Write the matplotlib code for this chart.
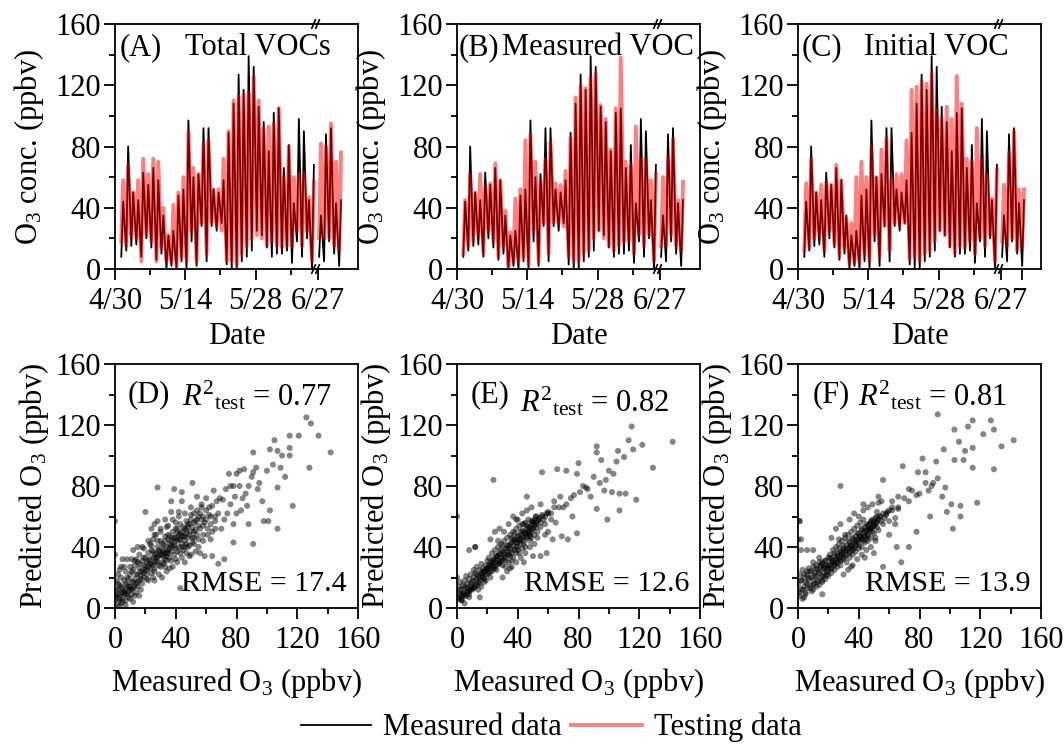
import numpy as np
import matplotlib
matplotlib.use('Agg')
import matplotlib.pyplot as plt
import matplotlib.transforms as mtransforms
from matplotlib.lines import Line2D

plt.rcParams['font.family'] = ['Liberation Serif', 'DejaVu Serif']
plt.rcParams['mathtext.fontset'] = 'custom'
plt.rcParams['mathtext.rm'] = 'Liberation Serif'
plt.rcParams['mathtext.it'] = 'Liberation Serif:italic'
plt.rcParams['mathtext.bf'] = 'Liberation Serif:bold'

# ---------------- time-series data (daily trough / peak, ppbv) ----------------
pre_days = list(range(1, 40))    # 5/1 .. 6/8 (days since 4/30)
post_days = list(range(0, 5))    # 6/27 .. 7/1 (days since 6/27)

meas_low = [8, 12, 15, 16, 8, 20, 14, 6, 10, 0, 2, 0, 5, 0, 18, 2, 28, 5, 28, 25,
            30, 3, 0, 0, 5, 8, 12, 25, 22, 14, 8, 10, 10, 12, 4, 18, 8, 20, 0,
            8, 5, 18, 10, 2]
meas_high = [44, 80, 50, 45, 63, 55, 66, 58, 35, 22, 25, 48, 52, 97, 60, 62, 92, 92, 52, 50,
             58, 89, 108, 127, 117, 139, 132, 106, 96, 77, 102, 105, 66, 81, 43, 98, 90, 45, 68,
             35, 88, 92, 43, 45]

testA_low = [18, 15, 22, 20, 5, 22, 18, 5, 14, 5, 5, 2, 8, 5, 25, 5, 30, 10, 30, 28,
             25, 5, 5, 3, 10, 15, 20, 22, 20, 15, 18, 15, 14, 15, 15, 25, 15, 25, 5,
             20, 20, 20, 15, 12]
testA_high = [58, 68, 50, 58, 72, 62, 72, 70, 40, 22, 42, 50, 60, 90, 66, 62, 82, 84, 52, 52,
              72, 90, 110, 113, 114, 115, 126, 110, 92, 93, 95, 105, 60, 80, 60, 62, 63, 47, 57,
              82, 80, 95, 70, 76]

testB_low = [10, 15, 18, 22, 10, 25, 18, 8, 15, 2, 5, 5, 8, 3, 25, 5, 30, 10, 30, 30,
             28, 8, 5, 5, 10, 12, 20, 25, 20, 15, 12, 15, 18, 18, 10, 22, 15, 22, 5,
             15, 15, 22, 15, 12]
testB_high = [45, 62, 50, 62, 54, 56, 69, 58, 38, 24, 46, 52, 84, 88, 70, 58, 72, 83, 56, 55,
              64, 86, 112, 120, 118, 125, 128, 107, 98, 78, 105, 138, 70, 68, 93, 72, 72, 58, 62,
              60, 73, 85, 45, 57]

testC_low = [12, 14, 20, 22, 12, 25, 16, 8, 14, 3, 5, 4, 10, 5, 22, 8, 28, 12, 30, 28,
             30, 6, 8, 5, 10, 12, 18, 25, 22, 15, 10, 15, 14, 18, 10, 20, 15, 22, 5,
             18, 15, 20, 12, 15]
testC_high = [56, 72, 50, 55, 57, 55, 68, 58, 33, 30, 60, 70, 60, 80, 60, 78, 85, 58, 62, 62,
              84, 117, 119, 123, 121, 128, 104, 98, 106, 98, 126, 108, 72, 70, 92, 72, 62, 46, 65,
              55, 76, 90, 52, 52]

date_ticks = [0, 14, 28, 40.4]
date_labels = ['4/30', '5/14', '5/28', '6/27']

# ---------------- scatter data (measured, predicted) ----------------
D_meas = [0, 1, 2, 2, 3, 3, 4, 4, 5, 5, 6, 6, 7, 7, 8, 8, 9, 9, 10, 10, 11, 11, 12, 12, 13, 13, 14, 14,
          15, 15, 16, 16, 17, 17, 18, 18, 19, 19, 20, 20, 1, 2, 0, 0, 3, 5, 8, 11, 14, 6, 4, 10, 12, 16,
          7, 1, 3,
          21, 21, 22, 22, 23, 23, 24, 24, 25, 25, 26, 26, 27, 27, 28, 28, 29, 29, 30, 30, 31, 31, 32, 32,
          33, 33, 34, 34, 35, 35, 36, 36, 37, 37, 38, 38, 39, 39, 40, 40, 41, 41, 42, 42, 43, 43, 44, 44,
          45, 45, 46, 46, 47, 47, 48, 48, 49, 49, 50, 50, 51, 51, 52, 52, 53, 54, 55, 56, 57, 58, 59, 60,
          24, 26, 28, 30, 33, 35, 37, 40, 42, 20, 28, 39, 44, 51, 37, 44, 54, 57, 31, 34, 38, 41, 44, 47,
          50, 53, 56, 59, 64, 68, 72, 43, 26, 22, 36, 46, 18, 15, 12, 25, 29, 33, 48, 55, 58, 52,
          62, 65, 69, 71, 68, 63, 66, 61, 70, 74, 76, 73, 75, 76, 78, 79, 80, 78, 78, 82, 80, 82, 85, 86,
          87, 88, 90, 91, 91, 91, 93, 95, 98, 101, 102, 102, 104, 105, 107, 107, 107, 109, 110, 112, 115,
          115, 115, 117, 121, 126, 129, 128, 134, 142, 84, 88, 94, 97, 100, 83, 72, 67, 64, 60, 63, 66,
          2, 4, 5, 6, 7, 8, 9, 10, 11, 12, 13, 14, 15, 16, 17, 18, 19, 20, 21, 22, 23, 24, 25, 26,
          27, 28, 29, 30, 31, 32, 33, 34, 35, 36, 37, 38, 39, 40, 41, 42, 43, 44, 45, 46, 47, 48, 49, 50,
          51, 52, 53, 54, 55, 56, 57, 58, 60, 62, 64, 66, 33, 35, 37, 32, 29, 27, 25, 23, 21, 19, 17, 15,
          13, 11, 9, 7, 5, 3, 1, 0, 2, 4, 7, 10, 13, 16, 19, 22, 26, 30, 34, 38, 42, 46, 50, 54,
          40, 43, 46, 49, 52, 55, 58, 61, 63, 36, 39, 41, 44, 47, 31, 34, 28, 26, 24]
D_pred = [5, 8, 4, 12, 7, 15, 10, 3, 6, 13, 9, 18, 12, 5, 15, 20, 11, 7, 14, 22, 17, 9, 13, 25, 19, 28, 16, 10,
          22, 30, 18, 26, 21, 12, 24, 31, 20, 28, 25, 33, 18, 22, 35, 57, 25, 32, 32, 32, 32, 27, 20, 6, 4, 8,
          2, 1, 1,
          30, 22, 27, 36, 32, 42, 29, 38, 33, 45, 30, 24, 36, 48, 33, 40, 37, 28, 35, 44, 38, 30, 41, 34,
          36, 47, 40, 31, 38, 45, 42, 33, 44, 37, 40, 50, 43, 35, 46, 39, 44, 52, 40, 48, 45, 55, 42, 50,
          47, 38, 52, 44, 49, 57, 46, 53, 55, 41, 50, 58, 53, 46, 56, 62, 51, 58, 54, 62, 58, 60, 56, 64,
          52, 55, 57, 52, 58, 54, 63, 56, 63, 63, 79, 78, 76, 82, 70, 70, 73, 68, 20, 24, 27, 30, 33, 36,
          35, 37, 36, 34, 34, 29, 32, 13, 18, 18, 26, 30, 40, 40, 38, 20, 22, 27, 40, 45, 48, 42,
          66, 77, 72, 71, 62, 55, 60, 48, 52, 62, 68, 78, 88, 80, 80, 73, 62, 55, 43, 80, 88, 90, 91, 75,
          67, 55, 86, 89, 102, 42, 92, 82, 57, 57, 64, 104, 94, 110, 103, 79, 52, 92, 100, 86, 113,
          105, 100, 67, 113, 125, 121, 92, 113, 102, 72, 80, 78, 70, 90, 64, 58, 70, 50, 72, 60, 52,
          9, 14, 4, 11, 16, 9, 19, 12, 24, 17, 8, 22, 14, 29, 24, 16, 33, 27, 19, 31, 26, 41, 28, 35,
          31, 44, 34, 27, 42, 37, 44, 36, 48, 39, 31, 46, 41, 52, 37, 45, 49, 40, 53, 47, 42, 55, 48, 61,
          43, 50, 57, 48, 60, 52, 66, 54, 58, 61, 67, 57, 32, 36, 41, 29, 38, 33, 37, 29, 25, 23, 19, 17,
          14, 12, 14, 9, 10, 6, 12, 8, 16, 27, 24, 27, 31, 35, 39, 44, 48, 50, 53, 58, 60, 62, 66, 64,
          32, 36, 40, 34, 46, 40, 44, 52, 45, 47, 46, 49, 47, 51, 35, 34, 30, 26, 23]

E_meas = [0, 1, 1, 2, 2, 3, 3, 4, 4, 5, 5, 6, 6, 7, 7, 8, 8, 9, 9, 10, 10, 11, 11, 12, 12, 13, 13, 14,
          14, 15, 15, 16, 16, 17, 17, 18, 18, 19, 19, 20, 20, 0, 3, 5, 8, 12, 15, 0,
          21, 21, 22, 22, 23, 23, 24, 24, 25, 25, 26, 26, 27, 27, 28, 28, 29, 29, 30, 30, 31, 31, 32, 32,
          33, 33, 34, 34, 35, 35, 36, 36, 37, 37, 38, 38, 39, 39, 40, 40, 41, 41, 42, 42, 43, 43, 44, 44,
          45, 45, 46, 46, 47, 47, 48, 48, 49, 49, 50, 50, 51, 51, 52, 52, 53, 54, 55, 56, 57, 58, 59, 60,
          22, 25, 28, 31, 34, 37, 40, 43, 46, 49, 52, 55, 30, 33, 36, 39, 42, 45, 48, 51, 27, 35, 44, 50,
          24, 56, 66, 72, 80, 79, 92, 92, 95, 106, 115, 113, 122, 142, 129, 116, 118, 107, 99, 92, 102, 107,
          111, 103, 105, 110, 97, 88, 85, 81, 77, 72, 67, 68, 79, 73, 69, 59, 55, 53, 46, 39, 12, 8,
          62, 64, 70, 75, 83, 86, 90, 94, 98, 100, 60, 65, 63, 58, 76,
          1, 2, 3, 4, 5, 6, 7, 8, 9, 10, 11, 12, 13, 14, 15, 16, 17, 18, 19, 20, 21, 22, 23, 24,
          25, 26, 27, 28, 29, 30, 31, 32, 33, 34, 35, 36, 37, 38, 39, 40, 41, 42, 43, 44, 45, 46, 47, 48,
          49, 50, 51, 52, 53, 54, 55, 56, 58, 60, 62, 64, 33, 35, 37, 39, 41, 43, 45, 47, 49, 31, 29, 27,
          25, 23, 21, 19, 17, 15, 13, 11, 9, 7, 5, 3, 36, 38, 40, 42, 44, 46, 48, 50, 30, 28, 26, 24,
          22, 20, 18, 16, 34, 32, 36, 40, 44, 48, 52]
E_pred = [10, 6, 14, 9, 17, 12, 6, 15, 10, 18, 8, 13, 21, 11, 16, 19, 9, 14, 22, 17, 12, 20, 25, 15, 23, 19, 27, 21,
          12, 25, 18, 23, 29, 20, 26, 24, 17, 28, 22, 26, 31, 20, 5, 3, 7, 40, 7, 60,
          26, 33, 24, 30, 28, 36, 32, 26, 30, 38, 34, 28, 31, 40, 35, 29, 33, 42, 37, 31, 35, 44, 39, 33,
          37, 46, 41, 35, 39, 48, 43, 36, 41, 50, 45, 38, 43, 52, 47, 40, 45, 54, 48, 42, 47, 55, 50, 44,
          49, 56, 52, 46, 50, 58, 53, 47, 55, 50, 57, 52, 58, 54, 60, 55, 57, 59, 56, 61, 58, 60, 62, 63,
          45, 50, 52, 50, 55, 60, 58, 62, 64, 66, 60, 68, 20, 24, 27, 30, 33, 36, 40, 42, 44, 26, 30, 34,
          84, 89, 91, 90, 95, 88, 106, 102, 97, 103, 119, 110, 107, 109, 92, 104, 71, 64, 58, 65, 76, 75,
          75, 88, 96, 99, 77, 73, 79, 76, 74, 68, 66, 73, 49, 45, 47, 36, 34, 46, 73, 58, 40, 38,
          62, 70, 66, 72, 80, 78, 86, 82, 84, 90, 50, 56, 45, 48, 60,
          7, 12, 5, 9, 14, 8, 13, 11, 16, 13, 18, 14, 22, 17, 20, 14, 23, 19, 25, 22, 28, 20, 30, 27,
          32, 25, 34, 30, 38, 28, 36, 31, 39, 35, 42, 38, 33, 44, 40, 47, 36, 45, 51, 46, 40, 54, 49, 44,
          57, 52, 48, 56, 50, 58, 53, 60, 55, 62, 58, 66, 41, 34, 45, 36, 44, 39, 49, 53, 46, 33, 31, 29,
          26, 24, 23, 18, 20, 16, 15, 13, 12, 10, 9, 8, 46, 49, 43, 50, 55, 47, 51, 56, 41, 36, 34, 31,
          28, 26, 24, 22, 30, 27, 31, 38, 42, 48, 53]

F_meas = [0, 1, 1, 2, 2, 3, 3, 4, 4, 5, 5, 6, 6, 7, 7, 8, 8, 9, 9, 10, 10, 11, 11, 12, 12, 13, 13, 14,
          14, 15, 15, 16, 16, 17, 17, 18, 18, 19, 19, 20, 20, 0, 2, 1, 6, 10, 16, 4,
          21, 21, 22, 22, 23, 23, 24, 24, 25, 25, 26, 26, 27, 27, 28, 28, 29, 29, 30, 30, 31, 31, 32, 32,
          33, 33, 34, 34, 35, 35, 36, 36, 37, 37, 38, 38, 39, 39, 40, 40, 41, 41, 42, 42, 43, 43, 44, 44,
          45, 45, 46, 46, 47, 47, 48, 48, 49, 49, 50, 50, 51, 51, 52, 52, 53, 54, 55, 56, 57, 58, 59, 60,
          22, 25, 28, 31, 34, 37, 40, 43, 46, 49, 52, 55, 30, 33, 36, 39, 42, 45, 48, 51, 27, 35, 44, 50,
          92, 115, 127, 112, 129, 122, 103, 106, 142, 134, 115, 110, 96, 91, 82, 69, 103, 109, 115, 129,
          56, 28, 79, 84, 92, 97, 89, 86, 95, 101, 107, 118, 98, 107, 102, 87, 78, 73, 78, 73, 66, 62,
          53, 53, 43, 73, 68, 65, 56, 16, 2, 1, 62, 66, 70, 75, 80, 84, 88, 60, 64,
          1, 2, 3, 4, 5, 6, 7, 8, 9, 10, 11, 12, 13, 14, 15, 16, 17, 18, 19, 20, 21, 22, 23, 24,
          25, 26, 27, 28, 29, 30, 31, 32, 33, 34, 35, 36, 37, 38, 39, 40, 41, 42, 43, 44, 45, 46, 47, 48,
          49, 50, 51, 52, 53, 54, 56, 58, 60, 62, 64, 66, 30, 32, 34, 36, 38, 40, 42, 44, 46, 48, 28, 26,
          24, 22, 20, 18, 16, 14, 12, 10, 34, 36, 38, 40, 42, 44, 46, 48, 50, 52, 30, 28, 26, 24, 22, 20,
          18, 6, 10, 14]
F_pred = [15, 8, 22, 12, 18, 6, 25, 14, 20, 10, 17, 22, 13, 19, 26, 15, 24, 11, 20, 27, 18, 23, 16, 28, 21, 25, 18, 30,
          24, 20, 27, 17, 29, 23, 26, 31, 21, 28, 24, 33, 26, 45, 38, 57, 38, 38, 30, 7,
          28, 35, 26, 32, 30, 38, 34, 28, 32, 40, 36, 30, 33, 42, 37, 31, 35, 44, 39, 33, 37, 46, 41, 35,
          39, 48, 43, 37, 41, 50, 45, 39, 43, 52, 47, 41, 45, 54, 49, 43, 47, 56, 51, 45, 49, 58, 53, 47,
          51, 45, 54, 48, 55, 50, 56, 52, 58, 53, 57, 54, 59, 55, 60, 56, 58, 60, 57, 62, 59, 61, 63, 64,
          46, 52, 55, 48, 58, 62, 60, 64, 66, 68, 63, 70, 22, 25, 28, 32, 35, 38, 40, 44, 45, 27, 33, 36,
          127, 123, 123, 119, 117, 114, 117, 109, 110, 106, 105, 103, 104, 96, 98, 93, 97, 97, 92, 91,
          84, 80, 89, 89, 85, 79, 82, 77, 73, 68, 67, 69, 63, 60, 52, 60, 50, 70, 74, 78, 73, 66,
          73, 69, 68, 40, 30, 40, 27, 9, 45, 57, 70, 65, 72, 77, 75, 82, 80, 48, 55,
          10, 18, 12, 22, 9, 16, 20, 13, 24, 15, 21, 26, 17, 23, 28, 21, 26, 31, 22, 28, 33, 26, 31, 36,
          29, 34, 39, 31, 36, 41, 34, 38, 44, 36, 41, 46, 39, 44, 49, 41, 47, 52, 44, 50, 55, 47, 52, 57,
          50, 54, 46, 57, 51, 60, 55, 62, 57, 64, 59, 66, 32, 30, 33, 35, 37, 39, 40, 43, 44, 46, 28, 27,
          25, 23, 21, 19, 18, 15, 14, 12, 40, 38, 42, 45, 46, 47, 51, 52, 49, 53, 38, 35, 32, 29, 30, 24,
          27, 24, 30, 33]

# ---------------- figure ----------------
fig = plt.figure(figsize=(10.64, 7.44), dpi=100)
W, H = 1064.0, 744.0
lefts = [115, 457, 798]
width = 243
top_row = (269, 245)
bot_row = (608, 244)

TICK_FS = 22
LAB_FS = 22
NAME_FS = 22
ANN_FS = 21.5

def style_axes(ax):
    for s in ax.spines.values():
        s.set_linewidth(1.3)
    ax.tick_params(which='major', direction='out', length=8, width=1.3, labelsize=TICK_FS,
                   top=False, right=False)
    ax.tick_params(which='minor', direction='out', length=4.5, width=1.3, top=False, right=False)
    ax.tick_params(axis='y', which='major', pad=2)
    ax.tick_params(axis='x', which='major', pad=5)

def build(low, high, post0):
    xs, ys = [], []
    for i, d in enumerate(pre_days):
        xs += [d + 0.25, d + 0.62]
        ys += [low[i], high[i]]
    xs.append(np.nan)
    ys.append(np.nan)
    n = len(pre_days)
    for j, dd in enumerate(post_days):
        xs += [post0 + dd + 0.25, post0 + dd + 0.62]
        ys += [low[n + j], high[n + j]]
    return np.array(xs), np.array(ys)

def break_marks(ax, xb):
    tr = mtransforms.blended_transform_factory(ax.transData, ax.transAxes)
    for yy in (0.0, 1.0):
        for dx in (-0.45, 0.35):
            ax.plot([xb + dx - 0.35, xb + dx + 0.35], [yy - 0.017, yy + 0.017], transform=tr,
                    color='k', lw=1.2, clip_on=False, zorder=5)

ts_tests = [(testA_low, testA_high, '(A)', 'Total VOCs', 0.02, 0.29),
            (testB_low, testB_high, '(B)', 'Measured VOC', 0.005, 0.186),
            (testC_low, testC_high, '(C)', 'Initial VOC', 0.016, 0.27)]

mx, my = build(meas_low, meas_high, date_ticks[3])
for k, (tl, th, lab, name, lx, nx) in enumerate(ts_tests):
    ax = fig.add_axes([lefts[k] / W, (H - top_row[0]) / H, width / W, top_row[1] / H])
    tx, ty = build(tl, th, date_ticks[3])
    ax.plot(mx, my, color='k', lw=1.3, zorder=2)
    ax.plot(tx, ty, color='red', alpha=0.5, lw=2.8, zorder=3)
    ax.set_xlim(0, 48.4)
    ax.set_ylim(0, 160)
    ax.set_yticks([0, 40, 80, 120, 160])
    ax.set_yticks([20, 60, 100, 140], minor=True)
    xt = list(date_ticks)
    xl = list(date_labels)
    if k == 2:
        xt.append(date_ticks[3] + 4.2)
        xl.append('')
    ax.set_xticks(xt)
    ax.set_xticklabels(xl)
    ax.set_xticks([7, 21, 35], minor=True)
    style_axes(ax)
    ax.set_xlabel('Date', fontsize=LAB_FS, labelpad=4)
    ax.set_ylabel(r'O$_3$ conc. (ppbv)', fontsize=LAB_FS, labelpad=7)
    ax.text(lx, 0.905, lab, transform=ax.transAxes, fontsize=NAME_FS, va='center', ha='left')
    ax.text(nx, 0.905, name, transform=ax.transAxes, fontsize=NAME_FS, va='center', ha='left')
    break_marks(ax, 40.0)

sc_sets = [(D_meas, D_pred, '(D)', '0.77', '17.4', 0.05, 0.275, 0.87),
           (E_meas, E_pred, '(E)', '0.82', '12.6', 0.055, 0.26, 0.845),
           (F_meas, F_pred, '(F)', '0.81', '13.9', 0.06, 0.245, 0.87)]
for k, (xm, yp, lab, r2, rmse, lx, rx, ry) in enumerate(sc_sets):
    ax = fig.add_axes([lefts[k] / W, (H - bot_row[0]) / H, width / W, bot_row[1] / H])
    ax.scatter(xm, yp, s=19, c='k', alpha=0.48, edgecolors='none', zorder=3)
    ax.set_xlim(0, 160)
    ax.set_ylim(0, 160)
    ax.set_xticks([0, 40, 80, 120, 160])
    ax.set_yticks([0, 40, 80, 120, 160])
    ax.set_xticks([20, 60, 100, 140], minor=True)
    ax.set_yticks([20, 60, 100, 140], minor=True)
    style_axes(ax)
    ax.set_xlabel(r'Measured O$_3$ (ppbv)', fontsize=LAB_FS, labelpad=8)
    ax.set_ylabel(r'Predicted O$_3$ (ppbv)', fontsize=LAB_FS, labelpad=3)
    ax.text(lx, 0.875, lab, transform=ax.transAxes, fontsize=NAME_FS, va='center', ha='left')
    ax.text(rx, ry, r'$R^{2}{}_{\mathrm{test}}$ = ' + r2, transform=ax.transAxes,
            fontsize=NAME_FS, va='center', ha='left')
    ax.text(0.955, 0.10, 'RMSE = ' + rmse, transform=ax.transAxes, fontsize=ANN_FS,
            va='center', ha='right')

handles = [Line2D([], [], color='k', lw=1.3), Line2D([], [], color='red', alpha=0.5, lw=2.8)]
fig.legend(handles, ['Measured data', 'Testing data'], loc='center', bbox_to_anchor=(0.518, 0.022),
           ncol=2, frameon=False, fontsize=22, handlelength=2.3, handletextpad=0.4,
           columnspacing=0.3, borderaxespad=0)

fig.savefig('out.png', dpi=100)
